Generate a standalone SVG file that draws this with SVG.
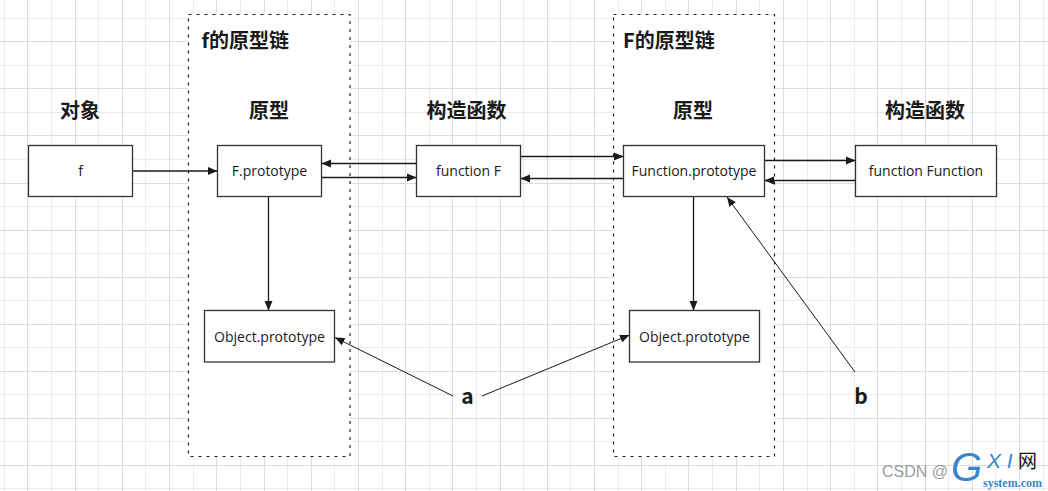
<svg xmlns="http://www.w3.org/2000/svg" width="1048" height="491" viewBox="0 0 1048 491">
  <style>
    .grid-l { stroke: #ececec; stroke-width: 1; fill: none; shape-rendering: crispEdges; }
    .grid-d { stroke: #dcdcdc; stroke-width: 1; fill: none; shape-rendering: crispEdges; }
    .container { fill: #ffffff; stroke: #222222; stroke-width: 1.2; stroke-dasharray: 3 5; }
    .box { fill: #ffffff; stroke: #333333; stroke-width: 1.3; }
    .lbl { font-family: "Open Sans", "Noto Sans", sans-serif; font-size: 14px; fill: #1a1a1a; text-anchor: middle; }
    .hdr { font-family: "Noto Sans CJK SC", "Noto Sans", sans-serif; font-size: 20px; font-weight: bold; fill: #1a1a1a; }
    .mid { text-anchor: middle; }
    .conn { stroke: #1a1a1a; stroke-width: 1.3; fill: none; marker-end: url(#arrow); }
    .conn-thin { stroke: #1a1a1a; stroke-width: 1; fill: none; marker-end: url(#arrow); }
  </style>
  <defs>
    <marker id="arrow" markerUnits="userSpaceOnUse" markerWidth="10" markerHeight="9" refX="9.5" refY="4.5" orient="auto">
      <path d="M0,0.5 L9.5,4.5 L0,8.5 z" fill="#1a1a1a"/>
    </marker>
  </defs>

  <rect x="0" y="0" width="1048" height="491" fill="#ffffff"/>
  <g id="grid">
    <path class="grid-l" d="M4.5,0V491M51.5,0V491M98.5,0V491M145.5,0V491M193.5,0V491M240.5,0V491M287.5,0V491M334.5,0V491M382.5,0V491M429.5,0V491M476.5,0V491M523.5,0V491M570.5,0V491M618.5,0V491M665.5,0V491M712.5,0V491M759.5,0V491M807.5,0V491M854.5,0V491M901.5,0V491M948.5,0V491M995.5,0V491M1043.5,0V491M0,18.5H1048M0,65.5H1048M0,112.5H1048M0,159.5H1048M0,206.5H1048M0,253.5H1048M0,300.5H1048M0,347.5H1048M0,394.5H1048M0,441.5H1048M0,488.5H1048"/>
    <path class="grid-d" d="M27.5,0V491M75.5,0V491M122.5,0V491M169.5,0V491M216.5,0V491M264.5,0V491M311.5,0V491M358.5,0V491M405.5,0V491M452.5,0V491M500.5,0V491M547.5,0V491M594.5,0V491M641.5,0V491M688.5,0V491M736.5,0V491M783.5,0V491M830.5,0V491M877.5,0V491M925.5,0V491M972.5,0V491M1019.5,0V491M0,41.5H1048M0,88.5H1048M0,135.5H1048M0,183.5H1048M0,230.5H1048M0,277.5H1048M0,324.5H1048M0,371.5H1048M0,418.5H1048M0,465.5H1048"/>
  </g>

  <g id="container-f-chain">
    <rect class="container" x="188.5" y="14.5" width="161.5" height="442"/>
    <text class="hdr" x="201.5" y="48">f的原型链</text>
  </g>
  <g id="container-F-chain">
    <rect class="container" x="613.5" y="14.5" width="161" height="442"/>
    <text class="hdr" x="623" y="48">F的原型链</text>
  </g>

  <g id="headers">
    <text class="hdr mid" x="80" y="118">对象</text>
    <text class="hdr mid" x="269" y="118">原型</text>
    <text class="hdr mid" x="466.5" y="118">构造函数</text>
    <text class="hdr mid" x="693" y="118">原型</text>
    <text class="hdr mid" x="925" y="118">构造函数</text>
  </g>

  <g id="connectors">
    <path class="conn" d="M132.5,171 L217.5,171"/>
    <path class="conn" d="M416.5,163.5 L321.5,163.5"/>
    <path class="conn" d="M321.5,177.5 L416.5,177.5"/>
    <path class="conn" d="M520.5,156.5 L623.5,156.5"/>
    <path class="conn" d="M623.5,178.5 L520.5,178.5"/>
    <path class="conn" d="M764.5,160.5 L855.5,160.5"/>
    <path class="conn" d="M855.5,180.5 L764.5,180.5"/>
    <path class="conn" d="M268.5,196.5 L268.5,310.5"/>
    <path class="conn" d="M693.5,196.5 L693.5,310.5"/>
    <path class="conn-thin" d="M453,396 L335,337.5"/>
    <path class="conn-thin" d="M482,396 L629.5,335"/>
    <path class="conn-thin" d="M855,372 L727,197"/>
  </g>

  <g id="node-f">
    <rect class="box" x="28.5" y="145.5" width="104" height="51"/>
    <text class="lbl" x="80.5" y="176">f</text>
  </g>
  <g id="node-F-prototype">
    <rect class="box" x="217.5" y="145.5" width="104" height="51"/>
    <text class="lbl" x="269.5" y="176">F.prototype</text>
  </g>
  <g id="node-function-F">
    <rect class="box" x="416.5" y="145.5" width="104" height="51"/>
    <text class="lbl" x="468.5" y="176">function F</text>
  </g>
  <g id="node-Function-prototype">
    <rect class="box" x="623.5" y="145.5" width="141" height="51"/>
    <text class="lbl" x="694" y="176">Function.prototype</text>
  </g>
  <g id="node-function-Function">
    <rect class="box" x="855.5" y="145.5" width="141" height="51"/>
    <text class="lbl" x="926" y="176">function Function</text>
  </g>
  <g id="node-Object-prototype-1">
    <rect class="box" x="204.5" y="310.5" width="130" height="51.5"/>
    <text class="lbl" x="269.5" y="342">Object.prototype</text>
  </g>
  <g id="node-Object-prototype-2">
    <rect class="box" x="629.5" y="310.5" width="130" height="51.5"/>
    <text class="lbl" x="694.5" y="342">Object.prototype</text>
  </g>
  <g id="node-a">
    <text class="hdr mid" x="467.5" y="404" style="font-size:21px">a</text>
  </g>
  <g id="node-b">
    <text class="hdr mid" x="861" y="404" style="font-size:21px">b</text>
  </g>

  <g id="watermark">
    <text x="882" y="476.5" style="font-family:'Liberation Sans',sans-serif;font-size:16px;fill:#9a9a9a">CSDN @</text>
    <text x="951" y="481" style="font-family:'Liberation Sans',sans-serif;font-size:40px;font-style:italic;fill:#3a86c8">G</text>
    <text x="987" y="468" style="font-family:'Liberation Sans',sans-serif;font-size:21px;font-style:italic;fill:#3a86c8">X I</text>
    <text x="1018" y="468" style="font-family:'Noto Sans CJK SC',sans-serif;font-size:19px;fill:#111111">网</text>
    <text x="983" y="487" style="font-family:'Liberation Serif',serif;font-size:12px;font-weight:bold;fill:#3a86c8">system.com</text>
  </g>
</svg>
